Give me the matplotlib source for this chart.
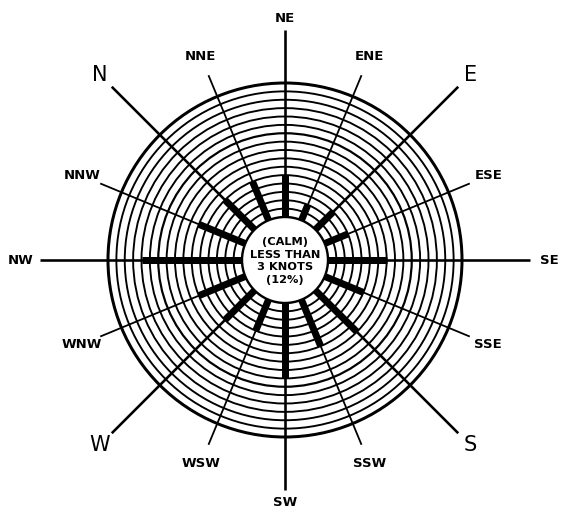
import numpy as np
import matplotlib
matplotlib.use("Agg")
import matplotlib.pyplot as plt
from matplotlib.patches import Circle

# ---- data ----
directions = ["N", "NNE", "NE", "ENE", "E", "ESE", "SE", "SSE",
              "S", "SSW", "SW", "WSW", "W", "WNW", "NW", "NNW"]
frequency = [5, 5, 5, 2, 3, 3, 7, 5, 7, 6, 9, 4, 5, 6, 12, 6]   # ring units
n_rings = 16
calm_text = "(CALM)\nLESS THAN\n3 KNOTS\n(12%)"
major = ["N", "E", "S", "W"]

# ---- geometry (pixel-like units) ----
W, H = 562, 519
cx, cy = 285, 260
r0 = 43.0
r_out = 177.0
dr = (r_out - r0) / n_rings

fig = plt.figure(figsize=(W / 100, H / 100), dpi=100)
ax = fig.add_axes([0, 0, 1, 1])
ax.set_xlim(-cx, W - cx)
ax.set_ylim(-(H - cy), cy)
ax.set_aspect("equal")
ax.axis("off")

pt = 72 / 100.0

# rings
for k in range(1, n_rings + 1):
    lw = 3.0 if k == n_rings else (2.2 if k == 10 else 1.9)
    ax.add_patch(Circle((0, 0), r0 + k * dr, fill=False, ec="black", lw=lw * pt, zorder=2))

for i, (d, f) in enumerate(zip(directions, frequency)):
    ang = np.deg2rad(135 - i * 22.5)
    ux, uy = np.cos(ang), np.sin(ang)
    if i % 2 == 0:
        r_line = 230 if d in ("NE", "SW") else 245
        lw_line = 2.6
    else:
        r_line = 200
        lw_line = 1.8
    ax.plot([0, r_line * ux], [0, r_line * uy], color="black", lw=lw_line * pt, zorder=3,
            solid_capstyle="butt")
    # bar
    rb = r0 + f * dr
    ax.plot([r0 * ux, rb * ux], [r0 * uy, rb * uy], color="black", lw=7 * pt, zorder=4,
            solid_capstyle="butt")
    # label
    if d in major:
        rl = r_line + 17
        ax.text(rl * ux, rl * uy, d, ha="center", va="center", fontsize=15,
                family="DejaVu Sans", zorder=6)
    else:
        rl = r_line + (12 if i % 2 == 0 else 20)
        if d in ("NW", "SE"):
            rl = r_line + 19
        ax.text(rl * ux, rl * uy, d, ha="center", va="center", fontsize=9.5,
                fontweight="bold", family="DejaVu Sans", zorder=6)

# calm circle
ax.add_patch(Circle((0, 0), r0, fc="white", ec="black", lw=2.4 * pt, zorder=5))
ax.text(0, -1, calm_text, ha="center", va="center", fontsize=8.2, fontweight="bold",
        linespacing=1.3, family="DejaVu Sans", zorder=6)

fig.savefig("out.png", dpi=100, facecolor="white")
